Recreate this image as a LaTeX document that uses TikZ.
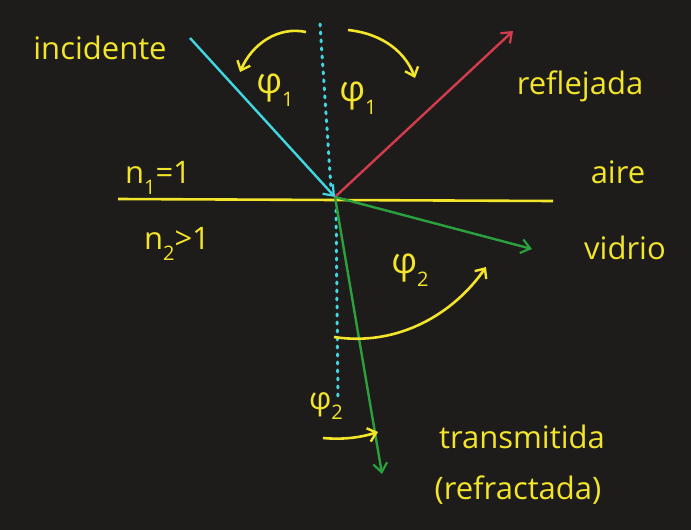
\documentclass[tikz,border=0pt]{standalone}
\usepackage{fontspec}
\setmainfont{Open Sans}
\usetikzlibrary{arrows.meta}
\definecolor{bg}{HTML}{1E1B1B}
\definecolor{hy}{HTML}{F2E52A}
\definecolor{hc}{HTML}{3FD8E2}
\definecolor{hr}{HTML}{D33C4C}
\definecolor{hg}{HTML}{2BA13E}
\newcommand{\sub}[1]{\raisebox{-0.35em}{\fontsize{20}{22}\selectfont #1}}
\tikzset{
  lbl/.style={text=hy, font=\fontsize{31}{34}\selectfont, inner sep=0pt},
  ang/.style={text=hy, font=\fontsize{36}{38}\selectfont, inner sep=0pt},
  ray/.style={line width=2.4pt, -{Straight Barb[length=9pt,width=14pt,line width=2.2pt]}},
  arc/.style={hy, line width=2.6pt, -{Straight Barb[length=8pt,width=14pt,line width=2.4pt]}},
  normal/.style={hc, line width=3pt, dash pattern=on 2pt off 6pt, line cap=round}
}
\begin{document}
\begin{tikzpicture}[x=1pt,y=-1pt]
\fill[bg] (0,0) rectangle (691,530);
\useasboundingbox (0,0) rectangle (691,530);
% key points
\coordinate (O) at (335,197);
\coordinate (Ol) at (118,199);
\coordinate (Or) at (553,201);
\coordinate (I) at (190,38);
\coordinate (R) at (513,31);
\coordinate (V) at (532,249);
\coordinate (T) at (382,474);
\coordinate (Ntop) at (320,24);
\coordinate (Nbot) at (331,188);
\coordinate (Mtop) at (336,210);
\coordinate (Mbot) at (338,398);
% normal
\draw[normal] (Ntop) -- (Nbot);
\draw[normal] (Mtop) -- (Mbot);
% interface
\draw[hy, line width=2.6pt] (Ol) -- (Or);
% rays
\draw[ray, hc] (I) -- (O);
\draw[ray, hr] (O) -- (R);
\draw[ray, hg] (O) -- (V);
\draw[ray, hg] (O) -- (T);
% angle arcs
\coordinate (a1s) at (306,32);
\coordinate (a1e) at (240,72);
\draw[arc] (a1s) .. controls (278,26) and (252,44) .. (a1e);
\coordinate (a2s) at (348,30);
\coordinate (a2e) at (415,78);
\draw[arc] (a2s) .. controls (385,34) and (406,54) .. (a2e);
\coordinate (a3s) at (334,337);
\coordinate (a3e) at (486,267);
\draw[arc] (a3s) .. controls (400,347) and (455,312) .. (a3e);
\coordinate (a4s) at (323,438);
\coordinate (a4e) at (378,432);
\draw[arc] (a4s) .. controls (345,440) and (362,437) .. (a4e);
% labels
\node[lbl] (inc) at (100,48) {incidente};
\node[lbl] (refl) at (580,86) {reflejada};
\node[lbl] (aire) at (618,172) {aire};
\node[lbl] (vid) at (625,248) {vidrio};
\node[lbl] (n1) at (158,178) {n\sub{1}=1};
\node[lbl] (n2) at (177,244) {n\sub{2}>1};
\node[ang] (p1l) at (275,90) {φ\sub{1}};
\node[ang] (p1r) at (358,98) {φ\sub{1}};
\node[ang] (p2) at (410,270) {φ\sub{2}};
\node[lbl] (p2s) at (326,406) {φ\sub{2}};
\node[lbl] (tr) at (522,437) {transmitida};
\node[lbl] (rf) at (518,490) {(refractada)};
\end{tikzpicture}
\end{document}
